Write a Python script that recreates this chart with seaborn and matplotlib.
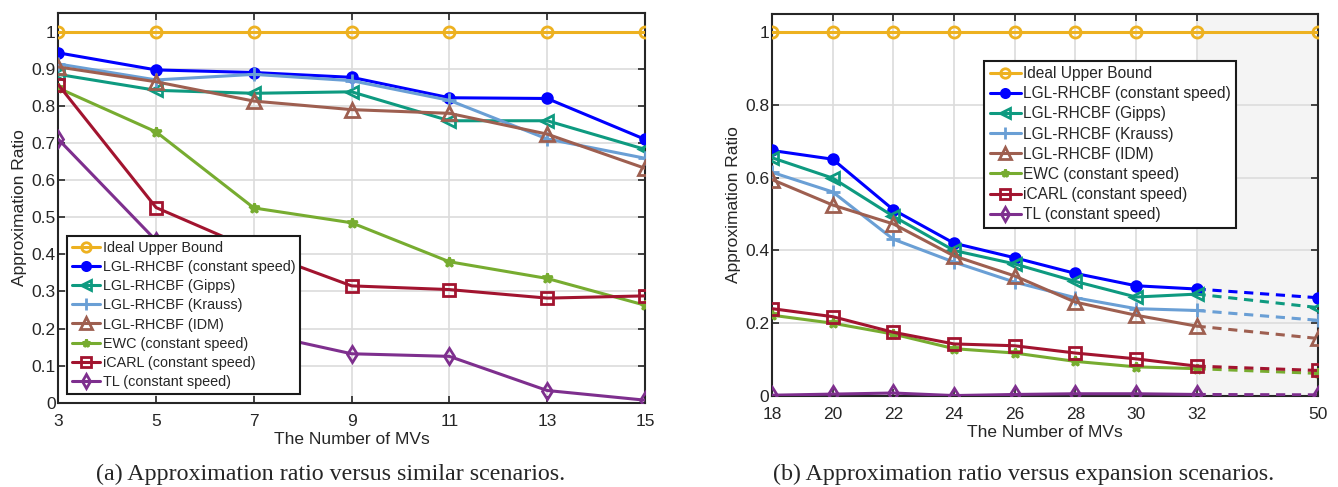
import numpy as np
import pandas as pd
import seaborn as sns
import matplotlib.pyplot as plt
from matplotlib.lines import Line2D

# ---- data ----
labels = ["Ideal Upper Bound", "LGL-RHCBF (constant speed)", "LGL-RHCBF (Gipps)",
          "LGL-RHCBF (Krauss)", "LGL-RHCBF (IDM)", "EWC (constant speed)",
          "iCARL (constant speed)", "TL (constant speed)"]

# (a) similar scenarios
mvs_a = [3, 5, 7, 9, 11, 13, 15]
ideal_a = [1, 1, 1, 1, 1, 1, 1]
const_a = [0.943, 0.897, 0.890, 0.877, 0.822, 0.820, 0.710]
gipps_a = [0.885, 0.842, 0.834, 0.838, 0.760, 0.760, 0.683]
krauss_a = [0.913, 0.870, 0.885, 0.868, 0.815, 0.711, 0.659]
idm_a = [0.905, 0.865, 0.813, 0.790, 0.780, 0.724, 0.632]
ewc_a = [0.848, 0.730, 0.525, 0.485, 0.380, 0.335, 0.263]
icarl_a = [0.857, 0.526, 0.412, 0.315, 0.305, 0.282, 0.288]
tl_a = [0.710, 0.437, 0.190, 0.132, 0.125, 0.033, 0.007]

# (b) expansion scenarios (last point = 50 MVs, dashed)
mvs_b = [18, 20, 22, 24, 26, 28, 30, 32, 50]
ideal_b = [1, 1, 1, 1, 1, 1, 1, 1, 1]
const_b = [0.675, 0.651, 0.512, 0.420, 0.380, 0.337, 0.303, 0.294, 0.270]
gipps_b = [0.655, 0.599, 0.494, 0.400, 0.363, 0.315, 0.272, 0.280, 0.243]
krauss_b = [0.615, 0.561, 0.431, 0.368, 0.313, 0.270, 0.240, 0.235, 0.208]
idm_b = [0.595, 0.525, 0.473, 0.385, 0.330, 0.258, 0.222, 0.192, 0.158]
ewc_b = [0.222, 0.200, 0.170, 0.130, 0.118, 0.095, 0.080, 0.075, 0.062]
icarl_b = [0.240, 0.218, 0.175, 0.143, 0.138, 0.118, 0.102, 0.082, 0.070]
tl_b = [0.002, 0.005, 0.008, 0.001, 0.004, 0.006, 0.006, 0.004, 0.003]

colors = ["#EDB120", "#0000FF", "#0E9A80", "#6A9FD5", "#9E5F50", "#77AC30", "#A2142F", "#7E2F8E"]
markers = ["o", "o", "<", "+", "^", "*", "s", "d"]
filled = [False, True, False, True, False, True, False, False]
msizes = [8, 7, 9, 10, 10, 7, 8, 8]

series_a = [ideal_a, const_a, gipps_a, krauss_a, idm_a, ewc_a, icarl_a, tl_a]
series_b = [ideal_b, const_b, gipps_b, krauss_b, idm_b, ewc_b, icarl_b, tl_b]

sns.set_style("ticks")
plt.rcParams["font.family"] = ["Liberation Sans", "DejaVu Sans"]

fig = plt.figure(figsize=(13.38, 4.87), dpi=100)
ax1 = fig.add_axes([0.0436, 0.173, 0.4384, 0.800])
ax2 = fig.add_axes([0.577, 0.187, 0.408, 0.784])


def line_kw(i, ms_scale=1.0):
    kw = dict(color=colors[i], marker=markers[i], markersize=msizes[i] * ms_scale,
              linewidth=2.2, markeredgewidth=2, markeredgecolor=colors[i])
    kw["markerfacecolor"] = colors[i] if filled[i] else "none"
    return kw


# ---- (a) ----
for i, vals in enumerate(series_a):
    d = pd.DataFrame({"MVs": mvs_a, "ratio": vals})
    sns.lineplot(data=d, x="MVs", y="ratio", ax=ax1, legend=False, zorder=3 + i * 0.01, **line_kw(i))

# ---- (b) ----
split = 32
for i, vals in enumerate(series_b):
    d = pd.DataFrame({"MVs": mvs_b, "ratio": vals})
    if i == 0:
        # upper bound stays solid all the way
        sns.lineplot(data=d, x="MVs", y="ratio", ax=ax2, legend=False, zorder=3, **line_kw(i))
        continue
    solid = d[d["MVs"] <= split]
    dash = d[d["MVs"] >= split]
    sns.lineplot(data=solid, x="MVs", y="ratio", ax=ax2, legend=False, zorder=3 + i * 0.01, **line_kw(i))
    kw = line_kw(i)
    kw["linestyle"] = (0, (3, 2.2))
    kw["markevery"] = [1]
    sns.lineplot(data=dash, x="MVs", y="ratio", ax=ax2, legend=False, zorder=3 + i * 0.01, **kw)


# compress the gap between 32 and 50 on the x axis
def fwd(x):
    x = np.asarray(x, dtype=float)
    return np.where(x <= split, x, split + (x - split) * 4.0 / 18.0)


def inv(x):
    x = np.asarray(x, dtype=float)
    return np.where(x <= split, x, split + (x - split) * 18.0 / 4.0)


ax2.set_xscale("function", functions=(fwd, inv))
ax2.axvspan(split, 50, color="#F4F4F4", zorder=0)

for ax, xs, yt in [(ax1, mvs_a, np.arange(0, 1.01, 0.1)), (ax2, mvs_b, np.arange(0, 1.01, 0.2))]:
    ax.set_xlim(xs[0], xs[-1])
    ax.set_ylim(0, 1.05)
    ax.set_xticks(xs)
    ax.set_xticklabels([str(v) for v in xs])
    ax.set_yticks(yt)
    ax.set_yticklabels(["%g" % round(v, 1) for v in yt])
    ax.xaxis.set_minor_locator(plt.NullLocator())
    ax.grid(True, color="#DCDCDC", linewidth=1.2, zorder=1)
    ax.set_axisbelow(True)
    ax.tick_params(direction="in", length=5, width=1.2, top=True, right=True,
                   labelsize=12.5, colors="#262626")
    ax.tick_params(axis="x", pad=8)
    ax.tick_params(axis="y", pad=2)
    for s in ax.spines.values():
        s.set_visible(True)
        s.set_color("#262626")
        s.set_linewidth(1.5)
    ax.set_xlabel("The Number of MVs", fontsize=12.5, color="#262626", labelpad=2)
    ax.set_ylabel("Approximation Ratio", fontsize=12.5, color="#262626", labelpad=3)

# legends
handles = [Line2D([], [], **line_kw(i, 0.85)) for i in range(len(labels))]
leg_kw = dict(frameon=True, fancybox=False, framealpha=1, edgecolor="#1a1a1a",
              handlelength=2.0, handletextpad=0.15, borderpad=0.35,
              borderaxespad=0)
lg1 = ax1.legend(handles, labels, loc="lower left", bbox_to_anchor=(0.014, 0.022),
                 fontsize=10.4, labelspacing=0.36, **leg_kw)
lg2 = ax2.legend(handles, labels, loc="upper left", bbox_to_anchor=(0.389, 0.878),
                 fontsize=11.2, labelspacing=0.33, **leg_kw)
for lg in (lg1, lg2):
    lg.get_frame().set_linewidth(1.5)
    lg.set_zorder(10)

# captions
fig.text(0.2474, 0.025, "(a) Approximation ratio versus similar scenarios.",
         ha="center", va="center", fontsize=17.3, family="Liberation Serif")
fig.text(0.765, 0.025, "(b) Approximation ratio versus expansion scenarios.",
         ha="center", va="center", fontsize=17.3, family="Liberation Serif")

fig.savefig("out.png", dpi=100)
